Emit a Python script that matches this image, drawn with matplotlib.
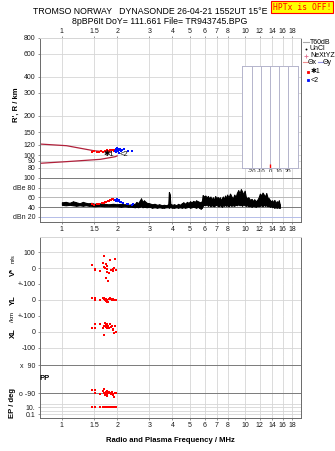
import matplotlib
matplotlib.use('Agg')
import matplotlib.pyplot as plt
from matplotlib.lines import Line2D
from matplotlib.ticker import FixedLocator, FixedFormatter, NullLocator

W, H = 335, 451

plt.rcParams['font.family'] = ['Liberation Sans', 'DejaVu Sans']
plt.rcParams['font.size'] = 5

# frequency axis (MHz)
freq_ticks = [1, 1.5, 2, 3, 4, 5, 6, 7, 8, 10, 12, 14, 16, 18]
freq_labels = ['1', '1.5', '2', '3', '4', '5', '6', '7', '8', '10', '12', '14', '16', '18']
f_lim = (0.755, 20.1)

# virtual height axis (km)
h_ticks = [80, 90, 100, 120, 150, 200, 300, 400, 600, 800]

# model traces
model_up_f = [0.755, 1.06, 1.49, 1.85]
model_up_h = [121.5, 117.9, 107.9, 105.0]
model_lo_f = [0.755, 1.06, 1.62, 1.95, 2.0]
model_lo_h = [86.3, 88.9, 92.6, 97.0, 98.5]

# echoes, mode 1 and mode 2
m1_f = [1.46, 1.50, 1.55, 1.60, 1.64, 1.68, 1.71, 1.74, 1.77, 1.80, 1.83, 1.86, 1.89, 1.92, 1.95]
m1_h = [106, 107, 106, 106, 107, 106, 108, 107, 109, 108, 110, 109, 110, 108, 109]
m2_f = [1.94, 1.96, 1.97, 1.99, 2.00, 2.01, 2.03, 2.05, 2.06, 2.08, 2.10, 2.12, 2.18, 2.30, 2.42]
m2_h = [108, 111, 106, 110, 113, 107, 112, 109, 104, 111, 108, 110, 111, 108, 108]

# tilt
tilt_deg = [0]
tilt_h_lo = [79.5]
tilt_h_hi = [85.5]

# amplitude envelope (dB)
amp_f = [1.00, 1.05, 1.10, 1.15, 1.20, 1.25, 1.30, 1.35, 1.40, 1.45, 1.50, 1.60, 1.70, 1.80,
         1.90, 2.00, 2.10, 2.20, 2.30, 2.40, 2.50, 2.55, 2.60, 2.65, 2.70, 2.75, 2.80, 2.90,
         3.00, 3.10, 3.20, 3.30, 3.40, 3.50, 3.60, 3.70, 3.80, 3.83, 3.86, 3.90, 4.00, 4.10,
         4.20, 4.30, 4.40, 4.50, 4.60, 4.70, 4.80, 4.90, 5.00, 5.10, 5.20, 5.30, 5.40, 5.50,
         5.60, 5.70, 5.80, 5.85, 5.95, 6.05, 6.15, 6.25, 6.35, 6.45, 6.55, 6.65, 6.75, 6.85,
         6.95, 7.05, 7.15, 7.25, 7.35, 7.45, 7.55, 7.65, 7.75, 7.85, 7.95, 8.10, 8.25, 8.40,
         8.55, 8.70, 8.85, 9.00, 9.15, 9.30, 9.45, 9.60, 9.75, 9.90, 10.05, 10.20, 10.40, 10.60,
         10.80, 11.00, 11.20, 11.40, 11.60, 11.80, 12.00, 12.20, 12.40, 12.60, 12.80, 13.00,
         13.20, 13.40, 13.60, 13.80, 14.00, 14.20, 14.40, 14.60, 14.80, 15.00, 15.20, 15.40]
amp_lo = [45, 44, 45, 44, 43, 44, 43, 44, 43, 43, 42, 43, 42, 42,
          42, 42, 41, 42, 41, 41, 40, 41, 40, 41, 42, 40, 41, 40,
          41, 39, 40, 39, 40, 39, 39, 40, 40, 39, 40, 40, 39, 39,
          40, 39, 40, 39, 40, 39, 40, 41, 39, 40, 41, 40, 39, 41,
          39, 37, 39, 43, 45, 44, 46, 43, 45, 42, 44, 43, 42, 44,
          45, 43, 42, 44, 43, 41, 44, 43, 45, 43, 44, 42, 45, 43,
          44, 43, 45, 44, 46, 44, 45, 43, 46, 44, 43, 44, 42, 43,
          41, 43, 42, 41, 43, 42, 43, 44, 42, 45, 43, 44,
          42, 43, 41, 42, 40, 41, 39, 40, 39, 40, 39, 39]
amp_hi = [50, 51, 49, 52, 50, 48, 51, 49, 48, 49, 47, 48, 47, 46,
          47, 46, 47, 46, 45, 46, 47, 51, 48, 53, 58, 51, 54, 49,
          48, 46, 47, 45, 46, 44, 45, 44, 46, 71, 68, 47, 45, 46,
          44, 47, 45, 48, 50, 47, 51, 49, 52, 50, 53, 51, 54, 52,
          51, 50, 53, 65, 62, 64, 60, 63, 58, 62, 56, 60, 55, 63,
          58, 61, 57, 60, 54, 59, 62, 56, 64, 58, 66, 60, 68, 62,
          58, 66, 61, 70, 75, 68, 77, 72, 66, 74, 62, 58, 60, 55,
          57, 53, 56, 52, 55, 60, 68, 64, 70, 66, 62, 69,
          60, 58, 55, 52, 54, 50, 55, 48, 52, 49, 54, 46]

amp1_f = [1.45, 1.50, 1.55, 1.60, 1.65, 1.70, 1.72, 1.75, 1.78, 1.80, 1.82, 1.85, 1.88, 1.90, 1.92]
amp1_db = [46, 45, 47, 46, 48, 49, 51, 50, 52, 53, 54, 55, 56, 57, 55]
amp2_f = [1.95, 1.97, 2.00, 2.02, 2.05, 2.08, 2.10, 2.15, 2.25, 2.30, 2.40, 2.45]
amp2_db = [55, 53, 56, 52, 54, 51, 50, 48, 47, 46, 45, 46]

# echo parameters
echo_f = [1.46, 1.52, 1.52, 1.62, 1.67, 1.70, 1.70, 1.72, 1.74, 1.74, 1.76, 1.76,
          1.77, 1.78, 1.80, 1.83, 1.85, 1.87, 1.89, 1.91, 1.93, 1.95, 1.96]
echo_v = [19, -6, -12, -19, 33, 77, 8, -2, 25, -65, 12, -23,
          -8, -79, -33, 50, -10, -15, -20, -8, -2, 56, -12]
echo_yl = [15, 15, 0, 2, 15, 8, 10, 2, 5, -8, 2, -15,
           -5, -12, 6, 15, 4, 2, 0, 6, 3, 0, 2]
echo_xl = [27, 50, 27, 48, 23, -19, 40, 58, 44, 30, 29, 50,
           23, 35, 23, 48, 29, 38, 20, 12, -4, 38, 2]
echo_pp = [-71, -71, -92, -98, -75, -66, -88, -103, -82, -92, -96, -75,
           -107, -88, -82, -88, -96, -85, -100, -96, -114, -88, -90]
echo_ep = [10, 10, 10, 10, 11, 10, 10, 9, 10, 11, 10, 10,
           9, 10, 10, 11, 10, 10, 9, 10, 10, 11, 10]

RED = '#ff0000'
BLUE = '#0010ff'
GRID = '#d6d6d6'
DARK = '#7a7a7a'
SPINE = '#6a6a6a'
MODEL = '#b0203a'
INK = '#1a1a1a'

fig = plt.figure(figsize=(W / 100, H / 100), dpi=100)


def px_axes(x0, y0, x1, y1):
    return fig.add_axes([x0 / W, 1 - y1 / H, (x1 - x0) / W, (y1 - y0) / H])


def freq_axis(ax, labels=None):
    ax.set_xscale('log')
    ax.set_xlim(f_lim)
    ax.xaxis.set_major_locator(FixedLocator(freq_ticks))
    ax.xaxis.set_minor_locator(NullLocator())
    ax.xaxis.set_major_formatter(FixedFormatter(freq_labels))
    ax.tick_params(axis='x', length=1.5, width=0.5, color=SPINE, pad=1.2, labelsize=5,
                   labelcolor=INK)
    ax.tick_params(axis='x', labelbottom=(labels == 'bottom'), labeltop=(labels == 'top'),
                   bottom=(labels == 'bottom'), top=(labels == 'top'))
    ax.tick_params(axis='y', length=1.5, width=0.5, color=SPINE, pad=1.5, labelsize=5,
                   labelcolor=INK)
    for f in freq_ticks:
        ax.axvline(f, color=GRID, lw=0.6, zorder=0)
    for s in ax.spines.values():
        s.set_color(SPINE)
        s.set_linewidth(0.7)
    ax.spines['top'].set_color(GRID)


def strip(ax):
    ax.spines['top'].set_visible(False)
    ax.spines['bottom'].set_visible(False)


# ---- virtual height panel
ax_h = px_axes(39.5, 37.6, 301, 172)
freq_axis(ax_h, 'top')
ax_h.tick_params(axis='x', pad=0.6)
ax_h.set_yscale('log')
ax_h.set_ylim(74, 800)
ax_h.yaxis.set_major_locator(FixedLocator(h_ticks))
ax_h.yaxis.set_minor_locator(NullLocator())
ax_h.yaxis.set_major_formatter(FixedFormatter([str(h) for h in h_ticks]))
for h in h_ticks:
    ax_h.axhline(h, color=GRID, lw=0.6, zorder=0)
ax_h.spines['bottom'].set_visible(False)
ax_h.plot(model_up_f, model_up_h, color=MODEL, lw=0.9, zorder=2)
ax_h.plot(model_lo_f, model_lo_h, color=MODEL, lw=0.9, zorder=2)
ax_h.plot(m1_f, m1_h, 's', color=RED, ms=1.7, mew=0, zorder=3)
ax_h.plot(m2_f, m2_h, 's', color=BLUE, ms=1.7, mew=0, zorder=3)
ax_h.text(1.81, 101.5, '✱1', fontsize=5.5, ha='center', va='center', zorder=4)
ax_h.text(2.17, 101.5, '<2', fontsize=5.5, ha='center', va='center', zorder=4)
ax_h.set_ylabel("R', R / km", fontsize=5.5, fontweight='bold', labelpad=3)

# ---- tilt inset
ax_t = px_axes(242, 66, 298, 168)
ax_t.set_facecolor('white')
ax_t.set_xlim(-31, 31)
ax_t.set_yscale('log')
ax_t.set_ylim(79.4, 483)
ax_t.yaxis.set_major_locator(NullLocator())
ax_t.yaxis.set_minor_locator(NullLocator())
tilt_ticks = [-20, -10, 0, 10, 20]
ax_t.set_xticks(tilt_ticks)
ax_t.set_xticklabels([str(t) for t in tilt_ticks])
ax_t.tick_params(axis='x', length=0, pad=1, labelsize=4.2, labelcolor=INK)
for t in tilt_ticks:
    ax_t.axvline(t, color='#a8a8c4', lw=0.6, zorder=0)
for s in ax_t.spines.values():
    s.set_color('#b4b4cc')
    s.set_linewidth(0.7)
ax_t.vlines(tilt_deg, tilt_h_lo, tilt_h_hi, color=RED, lw=1.0)
ax_t.set_xlabel('Tilt / deg', fontsize=4.2, labelpad=0)

# ---- amplitude panel
ax_a = px_axes(39.5, 172, 301, 222)
freq_axis(ax_a, 'bottom')
ax_a.spines['top'].set_visible(False)
ax_a.set_ylim(9.7, 112.3)
ax_a.set_yticks([20, 40, 60, 80, 100])
ax_a.set_yticklabels(['dBn 20', '40', '60', 'dBe 80', '100'])
for v, c in [(100, DARK), (80, GRID), (60, '#b8b8b8'), (40, DARK), (20, '#b4bce8')]:
    ax_a.axhline(v, color=c, lw=0.7, zorder=0)
ax_a.fill_between(amp_f, amp_lo, amp_hi, color='black', lw=0.8, zorder=2)
ax_a.vlines(amp_f, amp_lo, amp_hi, color='black', lw=0.7, zorder=2)
ax_a.plot(amp1_f, amp1_db, 's', color=RED, ms=1.9, mew=0, zorder=3)
ax_a.plot(amp2_f, amp2_db, 's', color=BLUE, ms=1.9, mew=0, zorder=3)

# ---- echo parameter strips
ax_v = px_axes(39.5, 237, 301, 284)
freq_axis(ax_v)
ax_v.spines['bottom'].set_visible(False)
ax_v.set_ylim(-100, 194)
ax_v.set_yticks([-100, 0, 100])
ax_v.set_yticklabels(['+-100', '0', '100'])
for v in [100, 0, -100]:
    ax_v.axhline(v, color=GRID, lw=0.6, zorder=0)
ax_v.plot(echo_f, echo_v, 's', color=RED, ms=1.7, mew=0, clip_on=False)

ax_y = px_axes(39.5, 284, 301, 316)
freq_axis(ax_y)
strip(ax_y)
ax_y.set_ylim(-100, 100)
ax_y.set_yticks([-100, 0])
ax_y.set_yticklabels(['+-100', '0'])
for v in [0, -100]:
    ax_y.axhline(v, color=GRID, lw=0.6, zorder=0)
ax_y.plot(echo_f, echo_yl, 's', color=RED, ms=1.7, mew=0)

ax_x = px_axes(39.5, 316, 301, 356)
freq_axis(ax_x)
strip(ax_x)
ax_x.set_ylim(-150, 100)
ax_x.set_yticks([-100, 0])
ax_x.set_yticklabels(['-100', '0'])
for v in [0, -100]:
    ax_x.axhline(v, color=GRID, lw=0.6, zorder=0)
ax_x.plot(echo_f, echo_xl, 's', color=RED, ms=1.7, mew=0)

ax_p = px_axes(39.5, 356, 301, 400)
freq_axis(ax_p)
strip(ax_p)
ax_p.set_ylim(-135, 148)
ax_p.set_yticks([-90, 90])
ax_p.set_yticklabels(['o -90', 'x  90'])
for v in [90, -90]:
    ax_p.axhline(v, color=DARK, lw=0.7, zorder=0)
ax_p.plot(echo_f, echo_pp, 's', color=RED, ms=1.7, mew=0)

ax_e = px_axes(39.5, 400, 301, 418)
freq_axis(ax_e, 'bottom')
ax_e.spines['top'].set_visible(False)
ax_e.set_yscale('log')
ax_e.set_ylim(0.0072, 1000)
ax_e.yaxis.set_major_locator(FixedLocator([0.1, 10]))
ax_e.yaxis.set_minor_locator(NullLocator())
ax_e.yaxis.set_major_formatter(FixedFormatter(['0.1', '10.']))
for v in [100, 10, 1, 0.1]:
    ax_e.axhline(v, color=GRID, lw=0.6, zorder=0)
ax_e.plot(echo_f, echo_ep, 's', color=RED, ms=1.7, mew=0)
ax_e.set_xlabel('Radio and Plasma Frequency / MHz', fontsize=5.5, fontweight='bold', labelpad=6)

# side labels of the lower panel
bold = dict(fontsize=5.5, fontweight='bold', rotation=90, ha='center', va='center')
fig.text(13 / W, 1 - 272 / H, 'V*', **bold)
fig.text(13 / W, 1 - 259 / H, 'm/s', fontsize=4, rotation=90, ha='center', va='center')
fig.text(13 / W, 1 - 300 / H, 'YL', **bold)
fig.text(13 / W, 1 - 317 / H, '/km', fontsize=4.5, rotation=90, ha='center', va='center')
fig.text(13 / W, 1 - 333 / H, 'XL', **bold)
fig.text(45 / W, 1 - 379 / H, 'PP', fontsize=5.5, fontweight='bold', ha='center', va='center')
fig.text(13 / W, 1 - 403 / H, 'EP / deg', **bold)

# header
fig.text(150 / W, 1 - 12 / H, 'TROMSO NORWAY   DYNASONDE 26-04-21 1552UT 15°E',
         fontsize=6.3, ha='center', va='center')
fig.text(160 / W, 1 - 21 / H, '8pBP6It DoY= 111.661 File= TR943745.BPG',
         fontsize=6.3, ha='center', va='center')
fig.text(302 / W, 1 - 7 / H, 'HPTx is OFF!', family='DejaVu Sans Mono', fontsize=5.8,
         color='#ff0000', ha='center', va='center',
         bbox=dict(boxstyle='square,pad=0.2', fc='#ffff00', ec='#ff0000', lw=0.8))


# key at the right of the height panel
def key_line(x0, x1, y, color):
    fig.add_artist(Line2D([x0 / W, x1 / W], [1 - y / H] * 2, transform=fig.transFigure,
                          color=color, lw=0.8))


def key_mark(x, y, marker, color, ms):
    fig.add_artist(Line2D([x / W], [1 - y / H], transform=fig.transFigure, marker=marker,
                          color=color, ms=ms, mew=0.6, lw=0))


def key_text(x, y, s):
    fig.text(x / W, 1 - y / H, s, fontsize=5, ha='left', va='center')


key_line(303, 309, 42, '#a8a8a8')
key_text(310, 42, 'T60dB')
key_mark(306, 49, '.', 'black', 1.5)
key_text(310, 49, 'UnCl')
key_mark(306, 55.5, '+', '#e07090', 3)
key_text(310, 55.5, 'NeXtYZ')
key_line(303, 307.5, 62, '#f09090')
key_text(308, 62, 'Θx')
key_line(318, 322.5, 62, '#9090e0')
key_text(323, 62, 'Θy')
key_mark(307.5, 71.5, 's', RED, 2)
key_text(311, 71.5, '✱1')
key_mark(307.5, 80, 's', BLUE, 2)
key_text(311, 80, '<2')

fig.savefig('out.png', dpi=100)
